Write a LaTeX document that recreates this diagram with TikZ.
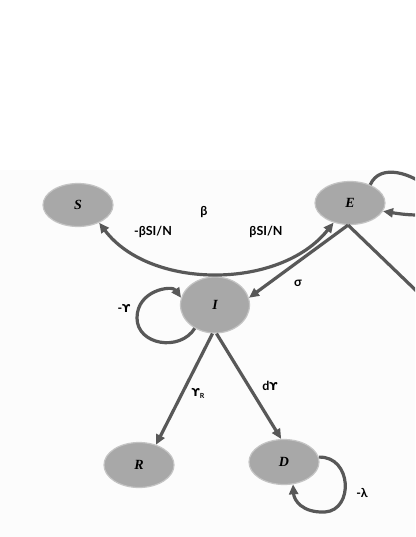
\documentclass[tikz,border=0pt]{standalone}
\usepackage{fontspec}
\usetikzlibrary{shapes.geometric,arrows.meta}
\newfontfamily\labfont{Lato}
\newfontfamily\upsfont{DejaVu Sans}
\newfontfamily\statefont{Liberation Serif}
\newcommand{\ups}{{\upsfont\bfseries\fontsize{11}{13}\selectfont ϒ}}
\definecolor{edgecol}{HTML}{585858}
\definecolor{statefill}{HTML}{A8A8A8}
\definecolor{stateline}{HTML}{C4C4C4}
\definecolor{bgcol}{HTML}{FCFCFC}
\tikzset{
  state/.style={ellipse, fill=statefill, draw=stateline, line width=1.2pt, inner sep=0pt,
    minimum width=70pt, minimum height=43pt, font=\statefont\bfseries\itshape\fontsize{14}{16}\selectfont},
  flow/.style={draw=edgecol, line width=3.2pt, -{Triangle[length=10pt,width=9pt]}},
  plain/.style={draw=edgecol, line width=3.2pt},
  lab/.style={font=\labfont\bfseries\fontsize{12.5}{14}\selectfont, text=black, inner sep=0pt}
}
\begin{document}
\begin{tikzpicture}[x=1pt,y=-1pt]
\useasboundingbox (0,0) rectangle (415,537);
\clip (0,0) rectangle (415,537);
\fill[bgcol] (0,170) rectangle (415,537);
% states
\node[state] (S) at (78,205) {S};
\node[state] (E) at (350,203) {E};
\node[state, minimum width=69pt, minimum height=56pt] (I) at (215,305) {I};
\node[state, minimum height=45pt] (R) at (139,465) {R};
\node[state, minimum height=45pt] (D) at (284,462) {D};
\coordinate (Eout) at (430,304);
% big curve S <-> E
\draw[plain, {Triangle[length=10pt,width=9pt]}-{Triangle[length=10pt,width=9pt]}]
  (S.-40) .. controls (150,290) and (280,290) .. (E.-130);
% E -> I
\draw[flow] (E.-95) -- (I.12);
% E -> off right
\draw[plain] (E.-95) -- (Eout);
% E self loop
\draw[flow] (E.42) .. controls (390,140) and (500,230) .. (E.-14);
% I self loop
\draw[flow] (I.229) .. controls (180,352) and (137,345) .. (137,318)
  .. controls (137,290) and (172,285) .. (I.168);
% I -> R, I -> D
\draw[flow] (I.-95) -- (R.50);
\draw[flow] (I.-87) -- (D.97);
% D self loop
\draw[flow] (D.8) .. controls (352,456) and (354,510) .. (325,512)
  .. controls (302,513) and (294,500) .. (D.-68);
% labels
\node[lab] (lbeta) at (204,212) {β};
\node[lab] (lneg) at (153,232) {-βSI/N};
\node[lab] (lpos) at (266,232) {βSI/N};
\node[lab] (lsig) at (298,283) {σ};
\node[lab] (lgam) at (124,308) {-\ups};
\node[lab] (lgr) at (198,393) {\ups\raisebox{-2pt}{\fontsize{7}{8}\selectfont R}};
\node[lab] (ldg) at (270,386) {d\ups};
\node[lab] (llam) at (362,493) {-λ};
\end{tikzpicture}
\end{document}
